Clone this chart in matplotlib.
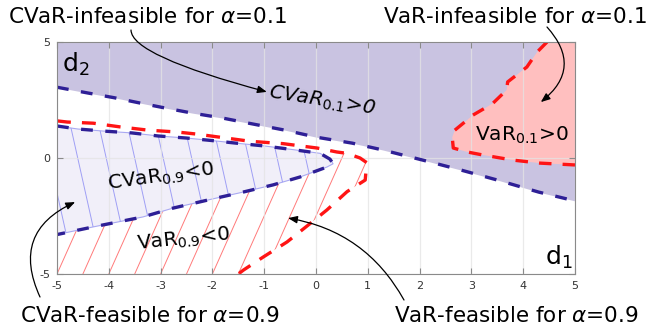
import matplotlib
matplotlib.use('Agg')
import matplotlib.pyplot as plt
import numpy as np
from matplotlib.patches import Polygon
from matplotlib.collections import LineCollection

plt.rcParams['lines.scale_dashes'] = False
plt.rcParams['axes.unicode_minus'] = False

# CVaR_0.1 = 0 boundary (infeasible above)
cvar01_x = [-5, -4.4, -3.9, -3.4, -2.9, -2.4, -1.8, -1.3, -0.6, 0.0, 0.7, 1.3, 2.2, 2.8, 3.5, 4.3, 5]
cvar01_y = [3.05, 2.8, 2.6, 2.37, 2.15, 1.94, 1.72, 1.5, 1.2, 0.9, 0.64, 0.34, -0.17, -0.52, -0.95, -1.47, -1.85]

# VaR_0.1 = 0 boundary (infeasible region in upper right)
var01_x = [4.46, 4.27, 4.07, 3.7, 3.68, 3.42, 3.3, 3.03, 2.92, 2.68, 2.63, 2.65, 2.92, 3.22, 3.8, 4.32, 5.0]
var01_y = [5.0, 4.57, 3.92, 3.28, 2.93, 2.37, 2.2, 1.85, 1.64, 1.2, 0.9, 0.43, 0.26, 0.13, -0.09, -0.22, -0.3]

# VaR_0.9 = 0 boundary (feasible below)
var09_x = [-5, -4.8, -4.3, -3.78, -3.24, -2.68, -2.3, -1.27, -0.64, 0.02, 0.4, 0.6, 0.85, 0.98, 0.95,
           0.6, 0.21, -0.15, -0.56, -1.02, -1.4, -1.5]
var09_y = [1.6, 1.55, 1.5, 1.34, 1.2, 1.12, 1.03, 0.72, 0.62, 0.43, 0.26, 0.2, 0.0, -0.2, -0.95,
           -1.45, -2.24, -2.89, -3.62, -4.27, -4.83, -5.0]

# CVaR_0.9 < 0 region, closed contour (upper edge to the tip, then lower edge back)
cvar09_x = [-5, -4.6, -4.1, -3.55, -3.05, -2.5, -2.0, -1.5, -1.0, -0.44, 0.08, 0.27, 0.33,
            0.21, -0.31, -0.83, -1.41, -1.91, -2.76, -3.34, -4.3, -5]
cvar09_y = [1.38, 1.25, 1.16, 1.08, 0.95, 0.86, 0.75, 0.63, 0.52, 0.36, 0.2, -0.05, -0.25,
            -0.39, -0.82, -1.16, -1.47, -1.72, -2.16, -2.54, -2.97, -3.3]
tip = 12

xticks = [-5, -4, -3, -2, -1, 0, 1, 2, 3, 4, 5]
yticks = [-5, 0, 5]

purple = '#c9c3e1'
pink = '#ffbfbf'
light = '#f1eff9'
blue = '#2e1f96'
red = '#ff1414'

fig = plt.figure(figsize=(6.48, 3.35), dpi=100)
ax = fig.add_axes([57/648, 61/335, 518/648, 232/335])
ax.set_xlim(-5, 5)
ax.set_ylim(-5, 5)

# infeasible regions
ax.fill_between(cvar01_x, cvar01_y, 5, color=purple, lw=0, zorder=1)
ax.add_patch(Polygon(np.column_stack([var01_x + [5], var01_y + [5]]), closed=True,
                     fc=pink, ec='none', zorder=1.1))

# hatch helper: parallel lines clipped to a polygon
def hatch(px, py, direc, step, color, z):
    poly = Polygon(np.column_stack([px, py]), closed=True, fill=False, ec='none')
    ax.add_patch(poly)
    dx, dy = direc
    segs = []
    for c in np.arange(-9, 9, step):
        segs.append([(c - 8*dx, -8*dy), (c + 8*dx, 8*dy)])
    lc = LineCollection(segs, colors=color, linewidths=0.7, zorder=z)
    ax.add_collection(lc)
    lc.set_clip_path(poly)

# VaR_0.9 feasible part outside the CVaR region
low_x = cvar09_x[tip:][::-1]
low_y = cvar09_y[tip:][::-1]
rh_x = [-5] + low_x + var09_x[10:]
rh_y = [-5] + low_y + var09_y[10:]
hatch(rh_x, rh_y, (0.2, 1.0), 0.5, '#ff7a7a', 1.5)

# CVaR_0.9 feasible region
ax.add_patch(Polygon(np.column_stack([cvar09_x, cvar09_y]), closed=True,
                     fc=light, ec='#a9a9f2', lw=0.8, zorder=1.6))
hatch(cvar09_x, cvar09_y, (-0.1, 1.0), 0.55, '#9f9ff5', 1.7)

ax.set_xticks(xticks)
ax.set_yticks(yticks)
ax.grid(True, color='#e4e4e4', lw=0.9, alpha=0.75)
ax.set_axisbelow(False)
for sp in ax.spines.values():
    sp.set_color('#8a8a8a')
    sp.set_zorder(5)
ax.tick_params(direction='in', top=True, right=True, length=4, width=0.8,
               color='#8a8a8a', labelsize=8, labelcolor='#333333', pad=5)

# boundary curves
ax.plot(cvar01_x, cvar01_y, color=blue, lw=2.4, ls=(0, (8.5, 9)), zorder=3)
ax.plot(var01_x, var01_y, color=red, lw=2.4, ls=(0, (9, 8)), zorder=3)
ax.plot(var09_x, var09_y, color=red, lw=2.4, ls=(0, (10, 8)), zorder=3)
ax.plot(cvar09_x, cvar09_y, color=blue, lw=2.4, ls=(0, (8.5, 9)), zorder=3.1)

# labels inside the plot
ax.text(-4.63, 4.05, r'd$_2$', fontsize=18, ha='center', va='center', zorder=6)
ax.text(4.69, -4.3, r'd$_1$', fontsize=18, ha='center', va='center', zorder=6)
ax.text(0.12, 2.46, r'CVaR$_{\mathit{0.1}}$>0', style='italic', fontsize=14.5,
        rotation=-9, ha='center', va='center', rotation_mode='anchor', zorder=6)
ax.text(3.98, 0.99, r'VaR$_{0.1}$>0', fontsize=14.5, ha='center', va='center', zorder=6)
ax.text(-3.0, -0.82, r'CVaR$_{0.9}$<0', fontsize=14.5, rotation=8,
        ha='center', va='center', rotation_mode='anchor', zorder=6)
ax.text(-2.55, -3.53, r'VaR$_{0.9}$<0', fontsize=14.5, rotation=6,
        ha='center', va='center', rotation_mode='anchor', zorder=6)

# outer annotations
fs = 15.5
fig.text(8/648, 1 - 23/335, r'CVaR-infeasible for $\alpha$=0.1', fontsize=fs, ha='left', va='baseline')
fig.text(647/648, 1 - 23/335, r'VaR-infeasible for $\alpha$=0.1', fontsize=fs, ha='right', va='baseline')
fig.text(20/648, 1 - 322/335, r'CVaR-feasible for $\alpha$=0.9', fontsize=fs, ha='left', va='baseline')
fig.text(639/648, 1 - 322/335, r'VaR-feasible for $\alpha$=0.9', fontsize=fs, ha='right', va='baseline')

arrow = dict(arrowstyle='-|>,head_length=0.55,head_width=0.22', color='black', lw=0.9,
             shrinkA=0, shrinkB=0)
ax.annotate('', xy=(-0.95, 2.85), xycoords='data', xytext=(131, 305), textcoords='figure pixels',
            arrowprops=dict(arrow, connectionstyle='angle3,angleA=90,angleB=-15'), zorder=7)
ax.annotate('', xy=(4.34, 2.41), xycoords='data', xytext=(547, 308), textcoords='figure pixels',
            arrowprops=dict(arrow, connectionstyle='arc3,rad=-0.53'), zorder=7)
ax.annotate('', xy=(-4.65, -1.9), xycoords='data', xytext=(40, 38), textcoords='figure pixels',
            arrowprops=dict(arrow, connectionstyle='arc3,rad=-0.5'), zorder=7)
ax.annotate('', xy=(-0.54, -2.59), xycoords='data', xytext=(404, 35), textcoords='figure pixels',
            arrowprops=dict(arrow, connectionstyle='arc3,rad=0.24'), zorder=7)

fig.savefig('out.png', dpi=100)
